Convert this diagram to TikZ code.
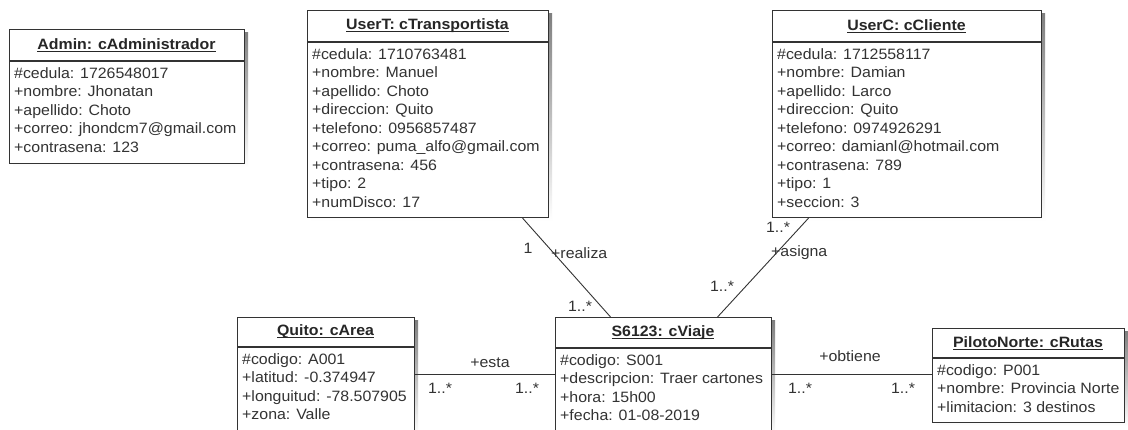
\documentclass[tikz,border=0pt]{standalone}
\usepackage{fontspec}
\setmainfont{Liberation Sans}[FakeStretch=1.06]
\usetikzlibrary{calc}
\definecolor{ink}{HTML}{333333}
\definecolor{shade}{HTML}{ECECEC}

% underlined object name, rule set just below the baseline
\newcommand\objname[1]{\setbox0\hbox{#1}\rlap{\rule[-2.4pt]{\wd0}{0.9pt}}\box0}

\tikzset{
  objbox/.style={draw=ink, line width=1.1pt, fill=white, rectangle, inner sep=0pt},
  attrs/.style={anchor=north west, align=left, inner sep=0pt, text=ink,
                font=\fontsize{15}{18.5}\selectfont},
  objtitle/.style={inner sep=0pt, text=black!85, font=\bfseries\fontsize{15}{18}\selectfont},
  assoc/.style={draw=ink, line width=0.9pt},
  lbl/.style={inner sep=0pt, text=ink, font=\fontsize{15}{18}\selectfont},
}

% #1 name, #2 left, #3 top, #4 right, #5 bottom, #6 header bottom, #7 title, #8 attributes
\newcommand\umlobj[8]{%
  \fill[shade] ({#2+4},{#3+4}) rectangle ({#4+4},{#5+4});
  \node[objbox, minimum width={#4-#2}, minimum height={#5-#3}, anchor=north west] (#1) at (#2,#3) {};
  \draw[ink, line width=1.1pt] (#2,#6) -- (#4,#6);
  \node[objtitle] (#1-t) at ({(#2+#4)/2},{(#3+#6)/2}) {\objname{#7}};
  \node[attrs] (#1-a) at ({#2+5},{#6+6}) {#8};
}

\begin{document}
\begin{tikzpicture}[x=1pt,y=-1pt]
\clip (0,0) rectangle (1128,430);
\fill[white] (0,0) rectangle (1128,430);

\umlobj{admin}{9}{29}{244}{163}{61}{Admin: cAdministrador}
  {\#cedula: 1726548017\\+nombre: Jhonatan\\+apellido: Choto\\+correo: jhondcm7@gmail.com\\+contrasena: 123}

\umlobj{usert}{307}{10}{548}{217}{42}{UserT: cTransportista}
  {\#cedula: 1710763481\\+nombre: Manuel\\+apellido: Choto\\+direccion: Quito\\+telefono: 0956857487\\+correo: puma\_alfo@gmail.com\\+contrasena: 456\\+tipo: 2\\+numDisco: 17}

\umlobj{userc}{772}{10}{1041}{217}{42}{UserC: cCliente}
  {\#cedula: 1712558117\\+nombre: Damian\\+apellido: Larco\\+direccion: Quito\\+telefono: 0974926291\\+correo: damianl@hotmail.com\\+contrasena: 789\\+tipo: 1\\+seccion: 3}

\umlobj{quito}{237}{317}{414}{431}{347}{Quito: cArea}
  {\#codigo: A001\\+latitud: -0.374947\\+longuitud: -78.507905\\+zona: Valle}

\umlobj{viaje}{555}{317}{771}{431}{348}{S6123: cViaje}
  {\#codigo: S001\\+descripcion: Traer cartones\\+hora: 15h00\\+fecha: 01-08-2019}

\umlobj{piloto}{932}{328}{1124}{422}{358}{PilotoNorte: cRutas}
  {\#codigo: P001\\+nombre: Provincia Norte\\+limitacion: 3 destinos}

% associations
\draw[assoc] ([xshift=94.5pt]usert.south) -- ([xshift=-53pt]viaje.north);
\draw[assoc] ([xshift=-98.5pt]userc.south) -- ([xshift=54pt]viaje.north);
\draw[assoc] (quito.east) -- (viaje.west);
\draw[assoc] (viaje.east) -- (viaje.east -| piloto.west);

% roles and multiplicities
\node[lbl] (m-rt) at (528,248) {1};
\node[lbl, anchor=west] (r-realiza) at (551,253) {+realiza};
\node[lbl] (m-rv) at (580,306) {1..*};

\node[lbl] (m-ac) at (778,227) {1..*};
\node[lbl, anchor=west] (r-asigna) at (771,253) {+asigna};
\node[lbl] (m-av) at (722,286) {1..*};

\node[lbl] (r-esta) at (490,363) {+esta};
\node[lbl] (m-eq) at (440,388) {1..*};
\node[lbl] (m-ev) at (527,388) {1..*};

\node[lbl] (r-obtiene) at (850,356) {+obtiene};
\node[lbl] (m-ov) at (800,388) {1..*};
\node[lbl] (m-op) at (903,388) {1..*};
\end{tikzpicture}
\end{document}
